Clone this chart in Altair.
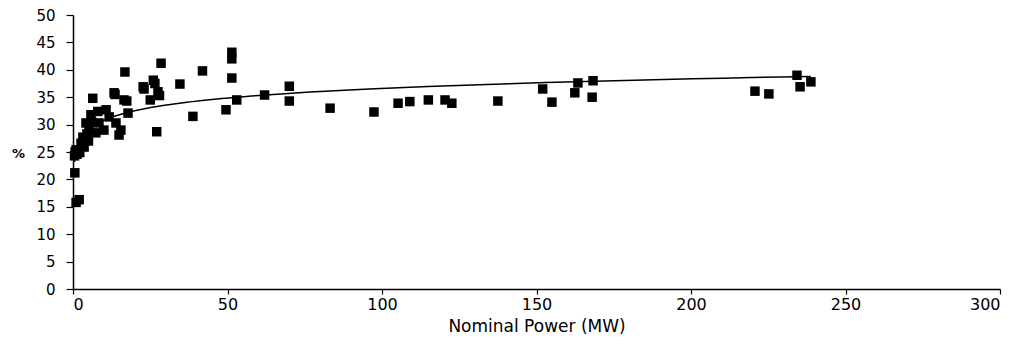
import altair as alt
import pandas as pd

# Nominal power (MW) of each plant
power_mw = [
    0.5, 0.7, 1.0, 1.3, 1.8, 2.2, 2.6, 3.2, 3.6, 4.2,
    4.5, 5.0, 5.2, 5.8, 6.0, 6.4, 7.4, 8.0, 8.4, 10.0,
    10.7, 11.7, 13.3, 13.6, 13.9, 14.9, 15.5, 16.5, 16.8, 17.4,
    17.8, 0.6, 1.0, 2.0, 22.7, 23.0, 25.0, 26.0, 26.5, 27.5,
    28.0, 27.1, 28.5, 34.6, 38.8, 41.9, 49.5, 51.4, 51.4, 51.4,
    53.0, 62.0, 70.0, 70.0, 83.2, 97.4, 105.2, 109.0, 115.0, 120.4,
    122.6, 137.5, 152.0, 155.0, 162.4, 163.4, 168.3, 168.0, 220.7, 225.2,
    234.3, 235.3, 238.8,
]
# Efficiency (%)
efficiency_pct = [
    24.3, 25.0, 25.4, 24.6, 25.2, 24.9, 26.6, 27.7, 25.9, 30.3,
    28.3, 27.0, 29.0, 31.8, 30.5, 34.8, 28.5, 32.4, 30.3, 29.0,
    32.7, 31.4, 35.8, 35.5, 30.3, 28.1, 29.0, 34.5, 39.6, 34.3,
    32.1, 21.2, 15.8, 16.3, 36.9, 36.5, 34.5, 38.1, 37.5, 36.0,
    35.3, 28.7, 41.2, 37.4, 31.5, 39.8, 32.7, 43.2, 42.0, 38.5,
    34.5, 35.4, 37.0, 34.3, 33.0, 32.3, 33.9, 34.2, 34.5, 34.5,
    33.9, 34.3, 36.5, 34.1, 35.8, 37.6, 38.0, 35.0, 36.1, 35.6,
    39.0, 36.9, 37.8,
]
x_ticks = [0, 50, 100, 150, 200, 250, 300]
y_ticks = [0, 5, 10, 15, 20, 25, 30, 35, 40, 45, 50]

df = pd.DataFrame({"x": power_mw, "y": efficiency_pct})

FONT = "DejaVu Sans"

x_enc = alt.X(
    "x:Q",
    scale=alt.Scale(domain=[0, 300], nice=False, zero=True),
    axis=alt.Axis(
        values=x_ticks,
        title="Nominal Power (MW)",
        grid=False,
        labelOverlap=False,
        domainColor="#000",
        domainWidth=1.5,
        tickColor="#000",
        tickWidth=1.2,
        tickSize=5,
        labelPadding=2,
        labelFontSize=16,
        labelFont=FONT,
        labelColor="#000",
        titleFont=FONT,
        titleFontSize=17,
        titleFontWeight="normal",
        titleColor="#000",
        titlePadding=6,
    ),
)
y_enc = alt.Y(
    "y:Q",
    scale=alt.Scale(domain=[0, 50], nice=False),
    axis=alt.Axis(
        values=y_ticks,
        title="%",
        titleAngle=0,
        titleX=-55,
        titleY=138,
        titleAlign="center",
        titleBaseline="middle",
        titleFont=FONT,
        titleFontSize=13,
        titleFontWeight="bold",
        titleColor="#000",
        grid=False,
        labelOverlap=False,
        domainColor="#000",
        domainWidth=1.5,
        tickColor="#000",
        tickWidth=1.2,
        tickSize=7,
        labelPadding=11,
        labelFontSize=15,
        labelFont=FONT,
        labelColor="#000",
    ),
)

points = alt.Chart(df).mark_square(size=90, color="#000", opacity=1, filled=True)

trend = (
    alt.Chart(df)
    .transform_regression("x", "y", method="log")
    .mark_line(color="#000", strokeWidth=1.5)
)

chart = (
    alt.layer(points, trend)
    .encode(x=x_enc, y=y_enc)
    .properties(
        width=927,
        height=274,
        padding={"left": 65, "top": 7, "right": 9, "bottom": 50},
        autosize=alt.AutoSizeParams(type="none"),
        background="white",
    )
    .configure_view(stroke=None)
)

chart.save("out.html", embed_options={"renderer": "svg", "actions": False})
